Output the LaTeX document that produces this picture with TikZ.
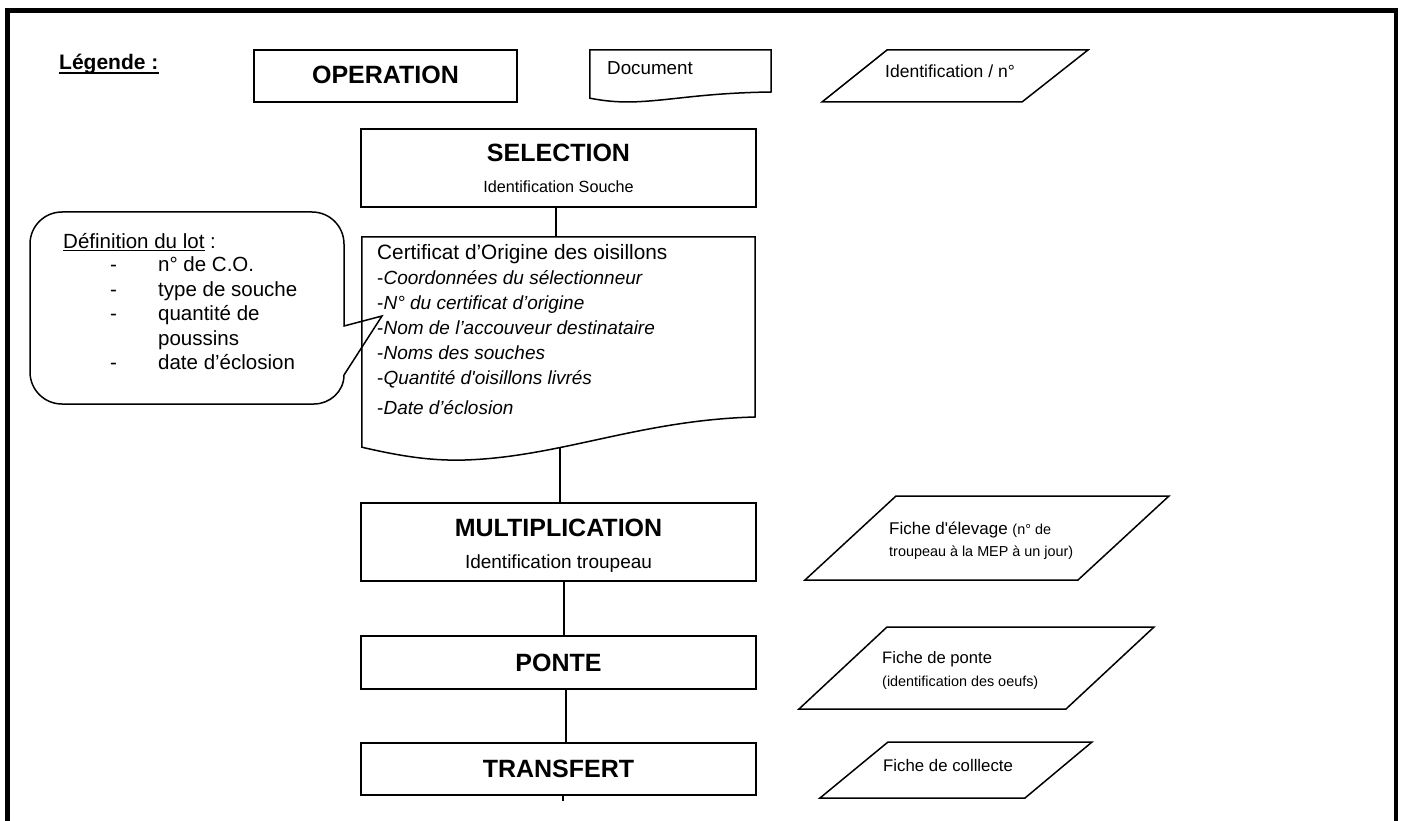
\documentclass[tikz,border=0pt]{standalone}
\usepackage{fontspec}
\setmainfont{Liberation Sans}[Ligatures=TeXOff]
\newcommand\fsz[1]{\fontsize{#1}{#1}\selectfont}
\begin{document}
\begin{tikzpicture}[x=1pt,y=-1pt,line join=miter,
  opbox/.style={draw,line width=1.5pt,minimum width=395pt,inner sep=0pt},
  ghost/.style={inner sep=0pt},
  lab/.style={anchor=base,inner sep=0pt},
  labw/.style={anchor=base west,inner sep=0pt},
  shp/.style={draw,line width=1.5pt},
  conn/.style={draw,line width=1.5pt},
  head/.style={lab,font=\bfseries\fsz{25}},
  item/.style={labw,font=\fsz{19}}]
\useasboundingbox (0,0) rectangle (1406,821);
% frame
\draw[line width=4.5pt] (7.5,821) -- (7.5,10.5) -- (1396,10.5) -- (1396,821);

% legend
\node[labw,font=\bfseries\fsz{21}] (leg) at (59,70) {Légende :};
\draw[line width=1.8pt] ([yshift=-3pt]leg.base west) -- ([yshift=-3pt]leg.base east);
\node[opbox,minimum width=263pt,minimum height=52pt] (op) at (385.5,76) {};
\node[head] (opt) at (385.5,84) {OPERATION};
\node[ghost,minimum width=181pt,minimum height=48pt] (docl) at (680.5,74) {};
\draw[shp] (docl.south west) -- (docl.north west) -- (docl.north east) -- (771,92)
  .. controls (700,93) and (670,101) .. (630,102)
  .. controls (615,102) and (605,101) .. (docl.south west) -- cycle;
\node[labw,font=\fsz{18.8}] (doct) at (607,74.5) {Document};
\draw[shp] (822,102) -- (887,50) -- (1088,50) -- (1022,102) -- cycle;
\node[labw,font=\fsz{17.5}] (idt) at (885,78) {Identification / n°};

% SELECTION
\node[opbox,minimum height=78pt] (sel) at (558.5,168) {};
\node[head] (selt) at (558.5,162) {SELECTION};
\node[lab,font=\fsz{16.2}] (sels) at (558.5,193) {Identification Souche};

% certificat document
\node[ghost,minimum width=393pt,minimum height=210pt] (cert) at (558.5,342) {};
\draw[shp] (cert.south west) -- (cert.north west) -- (cert.north east) -- (755,417)
  .. controls (640,420) and (560,457) .. (465,460)
  .. controls (430,461) and (400,456) .. (cert.south west) -- cycle;
\node[labw,font=\fsz{20.8}] (c0) at (377,259) {Certificat d’Origine des oisillons};
\node[item] (c1) at (377,284) {-\itshape Coordonnées du sélectionneur};
\node[item] (c2) at (377,309) {-\itshape N° du certificat d’origine};
\node[item] (c3) at (377,334) {-\itshape Nom de l’accouveur destinataire};
\node[item] (c4) at (377,359) {-\itshape Noms des souches};
\node[item] (c5) at (377,384) {-\itshape Quantité d'oisillons livrés};
\node[item] (c6) at (377,414) {-\itshape Date d’éclosion};

% callout
\draw[shp] (344,326) -- (382,316) -- (344,375)
  .. controls (344,391.7) and (329.7,404) .. (314,404) -- (62,404)
  .. controls (44.3,404) and (30,389.7) .. (30,372) -- (30,244)
  .. controls (30,226.3) and (44.3,212) .. (62,212) -- (312,212)
  .. controls (329.7,212) and (344,226.3) .. (344,244) -- cycle;
\node[labw,font=\fsz{20.5}] (d0) at (63,249) {\underline{Définition du lot} :};
\node[labw,font=\fsz{20.5}] (d1) at (110,272) {\makebox[48pt][l]{-}n° de C.O.};
\node[labw,font=\fsz{20.5}] (d2) at (110,296) {\makebox[48pt][l]{-}type de souche};
\node[labw,font=\fsz{20.5}] (d3) at (110,320) {\makebox[48pt][l]{-}quantité de};
\node[labw,font=\fsz{20.5}] (d4) at (158,345) {poussins};
\node[labw,font=\fsz{20.5}] (d5) at (110,369) {\makebox[48pt][l]{-}date d’éclosion};

% MULTIPLICATION
\node[opbox,minimum height=78pt] (mult) at (558.5,542) {};
\node[head] (multt) at (558.5,536) {MULTIPLICATION};
\node[lab,font=\fsz{19}] (mults) at (558.5,568.5) {Identification troupeau};
\draw[shp] (805,580) -- (896,496) -- (1169,496) -- (1078,580) -- cycle;
\node[labw,font=\fsz{17}] (el1) at (889,534) {Fiche d'élevage {\fsz{14.4}(n° de}};
\node[labw,font=\fsz{14.4}] (el2) at (889,556) {troupeau à la MEP à un jour)};

% PONTE
\node[opbox,minimum height=53pt] (ponte) at (558.5,662.5) {};
\node[head] (pontet) at (558.5,671) {PONTE};
\draw[shp] (799,709) -- (887,627) -- (1154,627) -- (1066,709) -- cycle;
\node[labw,font=\fsz{16.6}] (fp1) at (882,663) {Fiche de ponte};
\node[labw,font=\fsz{14.4}] (fp2) at (882,686) {(identification des oeufs)};

% TRANSFERT
\node[opbox,minimum height=52pt] (trans) at (558.5,769) {};
\node[head] (transt) at (558.5,777) {TRANSFERT};
\draw[shp] (820,798) -- (888,742) -- (1092,742) -- (1025,798) -- cycle;
\node[labw,font=\fsz{16.8}] (fc) at (883,771) {Fiche de colllecte};

% connectors
\draw[conn] ([xshift=-2.5pt]sel.south) -- ([xshift=-2.5pt]sel.south |- cert.north);
\draw[conn] ([xshift=1.5pt]cert.south) -- ([xshift=1.5pt]cert.south |- mult.north);
\draw[conn] ([xshift=5.5pt]mult.south) -- ([xshift=5.5pt]mult.south |- ponte.north);
\draw[conn] ([xshift=7.5pt]ponte.south) -- ([xshift=7.5pt]ponte.south |- trans.north);
\coordinate (stub) at (563,801);
\draw[conn] (trans.south -| stub) -- (stub);
\end{tikzpicture}
\end{document}
